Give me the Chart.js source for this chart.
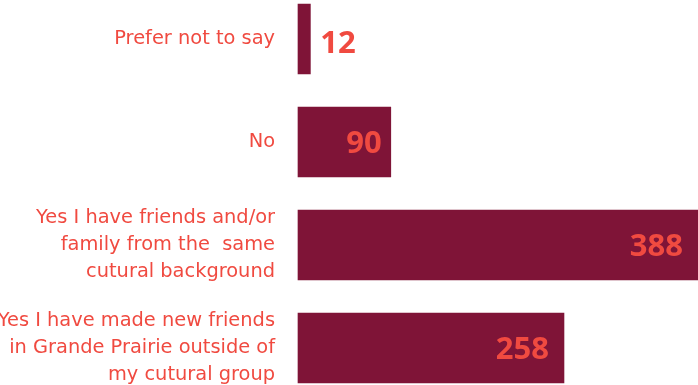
<!DOCTYPE html>
<html>
<head>
<meta charset="utf-8">
<script src="https://cdn.jsdelivr.net/npm/chart.js@4.4.0/dist/chart.umd.min.js"></script>
<style>
    html, body { margin: 0; padding: 0; background: #fff; }
    #wrap { width: 698px; height: 385px; }
</style>
</head>
<body>
<div id="wrap"><canvas id="chart"></canvas></div>
<script>
const categories = [
    ['Prefer not to say'],
    ['No'],
    ['Yes I have friends and/or', 'family from the  same', 'cutural background'],
    ['Yes I have made new friends', 'in Grande Prairie outside of', 'my cutural group']
];
const responses = [12, 90, 388, 258];

const barColor = '#7f1437';
const textColor = '#f04a40';

// value labels at the end of each bar
const valueLabels = {
    id: 'valueLabels',
    afterDatasetsDraw(chart) {
        const { ctx } = chart;
        const meta = chart.getDatasetMeta(0);
        ctx.save();
        ctx.font = 'bold 31px "Open Sans"';
        ctx.fillStyle = textColor;
        ctx.textBaseline = 'middle';
        meta.data.forEach((bar, i) => {
            const width = bar.x - bar.base;
            if (width > 60) {
                ctx.textAlign = 'right';
                ctx.fillText(responses[i], bar.x - (width < 150 ? 9 : 15), bar.y + 2);
            } else {
                ctx.textAlign = 'left';
                ctx.fillText(responses[i], bar.x + 10, bar.y + 5);
            }
        });
        ctx.restore();
    }
};

new Chart(document.getElementById('chart'), {
    type: 'bar',
    data: {
        labels: categories,
        datasets: [{
            data: responses,
            backgroundColor: barColor,
            barThickness: 70,
            clip: false
        }]
    },
    options: {
        indexAxis: 'y',
        responsive: true,
        maintainAspectRatio: false,
        animation: false,
        layout: { padding: { top: 39, bottom: 37, left: 0, right: 0 } },
        plugins: {
            legend: { display: false },
            tooltip: { enabled: false }
        },
        scales: {
            x: {
                display: false,
                min: 0,
                max: 388
            },
            y: {
                offset: false,
                grid: { display: false, drawTicks: false },
                border: { display: false },
                afterFit: scale => {
                    scale.width = 298;
                    scale.paddingTop = 0;
                    scale.paddingBottom = 0;
                },
                ticks: {
                    color: textColor,
                    padding: 23,
                    font: { family: 'DejaVu Sans', size: 19.4, lineHeight: 1.38 }
                }
            }
        }
    },
    plugins: [valueLabels]
});
</script>
</body>
</html>
